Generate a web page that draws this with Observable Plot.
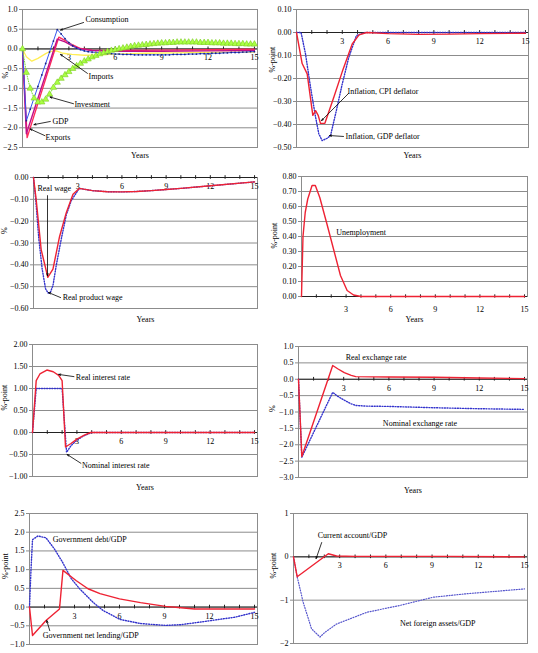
<!DOCTYPE html>
<html><head><meta charset="utf-8">
<script src="https://cdn.jsdelivr.net/npm/d3@7"></script>
<script src="https://cdn.jsdelivr.net/npm/@observablehq/plot@0.6"></script>
<style>
html,body{margin:0;padding:0;background:#fff;overflow:hidden;}
#root{position:relative;width:538px;height:653px;}
#root svg{position:absolute;overflow:visible;}
</style></head><body><div id="root"></div>
<script>
// ---------- data ----------
const xTickLabels = [3, 6, 9, 12, 15];
const yearTicks = [1,2,3,4,5,6,7,8,9,10,11,12,13,14,15];

// Panel 1 (quarterly series with markers)
const consumption = [0,
  -1.82,-1.53,-1.24,-0.95, -0.66,-0.37,-0.08,0.20, 0.49,0.38,0.26,0.16, 0.08,0.02,-0.02,-0.05,
  -0.07,-0.08,-0.09,-0.10, -0.11,-0.12,-0.12,-0.13, -0.13,-0.14,-0.14,-0.14, -0.15,-0.15,-0.15,-0.15,
  -0.15,-0.15,-0.15,-0.15, -0.15,-0.15,-0.14,-0.14, -0.14,-0.14,-0.13,-0.13, -0.13,-0.12,-0.12,-0.12,
  -0.11,-0.11,-0.11,-0.10, -0.10,-0.09,-0.09,-0.09, -0.08,-0.08,-0.07,-0.07];
const investment = [0,
  -0.60,-1.00,-1.25,-1.35, -1.35,-1.28,-1.15,-0.98, -0.85,-0.75,-0.66,-0.58, -0.50,-0.43,-0.37,-0.31,
  -0.26,-0.21,-0.17,-0.13, -0.10,-0.07,-0.04,-0.02, 0.00,0.02,0.04,0.06, 0.08,0.09,0.10,0.11,
  0.12,0.13,0.14,0.15, 0.15,0.16,0.16,0.17, 0.17,0.17,0.17,0.17, 0.17,0.16,0.16,0.16,
  0.15,0.15,0.15,0.14, 0.14,0.14,0.13,0.13, 0.13,0.12,0.12,0.12];
const gdp = [[0,0],[0.25,-2.15],[2.25,0.25],[2.75,0.18],[3.25,0.07],[3.75,0.0],[4.5,-0.04],[6,-0.06],[9,-0.06],[12,-0.05],[15,-0.04]];
const exportsS = [[0,0],[0.3,-2.25],[2.35,0.3],[2.75,0.22],[3.25,0.1],[3.75,0.01],[4.5,-0.03],[6,-0.04],[9,-0.03],[12,-0.02],[15,-0.01]];
const imports = [[0,0],[0.25,-0.2],[0.6,-0.31],[1.0,-0.24],[1.5,-0.12],[1.8,-0.06],[2.2,-0.05],[2.6,-0.11],[3.2,-0.14],[4,-0.16],[5,-0.15],[6,-0.13],[8,-0.11],[10,-0.1],[12,-0.09],[15,-0.08]];

// Panel 2
const cpiInfl = [[0,0],[0.37,-0.135],[0.7,-0.18],[1.07,-0.36],[1.25,-0.34],[1.42,-0.36],[1.57,-0.395],[1.86,-0.395],[2.45,-0.28],[3.0,-0.17],[3.65,-0.05],[4.1,-0.01],[4.6,0],[6,-0.005],[8,-0.008],[10,-0.007],[12,-0.005],[15,-0.003]];
const gdpInfl = [[0,0],[0.3,0],[0.59,-0.093],[0.92,-0.238],[1.25,-0.368],[1.46,-0.44],[1.68,-0.47],[2.0,-0.46],[2.23,-0.448],[2.56,-0.354],[3.0,-0.223],[3.43,-0.107],[3.93,-0.013],[4.5,0],[15,0]];

// Panel 3
const realWage = [[0,0],[0.18,-0.1],[0.52,-0.33],[0.97,-0.457],[1.32,-0.42],[1.77,-0.27],[2.23,-0.16],[2.68,-0.077],[3.1,-0.05],[4,-0.06],[5,-0.065],[6,-0.066],[7,-0.064],[8,-0.06],[9,-0.055],[10,-0.05],[12,-0.038],[15,-0.02]];
const realProductWage = [[0,0],[0.15,-0.1],[0.36,-0.28],[0.59,-0.42],[0.82,-0.51],[1.0,-0.53],[1.15,-0.525],[1.32,-0.495],[1.55,-0.4],[1.89,-0.28],[2.23,-0.17],[2.57,-0.105],[2.91,-0.07],[3.1,-0.05],[4,-0.06],[5,-0.065],[6,-0.066],[7,-0.064],[8,-0.06],[9,-0.055],[10,-0.05],[12,-0.038],[15,-0.02]];

// Panel 4
const unemployment = [[0,0],[0.1,0.4],[0.25,0.56],[0.42,0.65],[0.71,0.74],[0.93,0.74],[1.23,0.66],[1.72,0.48],[2.17,0.31],[2.62,0.14],[3.07,0.04],[3.5,0.01],[4,0],[15,0]];

// Panel 5
const realRate = [[0,0],[0.25,1.18],[0.5,1.33],[0.97,1.42],[1.4,1.38],[1.77,1.3],[2.0,1.18],[2.23,-0.33],[2.6,-0.25],[3.0,-0.15],[3.5,-0.06],[3.93,0],[15,0]];
const nominalRate = [[0,0],[0.25,1.0],[2.0,1.0],[2.3,-0.45],[2.6,-0.3],[3.0,-0.17],[3.5,-0.07],[4.0,0],[15,0]];

// Panel 6
const realFx = [[0,0],[0.22,-2.36],[2.27,0.42],[2.6,0.32],[3.04,0.2],[3.5,0.12],[3.8,0.08],[6,0.07],[9,0.06],[12,0.04],[15,0.02]];
const nominalFx = [[0,0],[0.22,-2.38],[2.27,-0.4],[2.6,-0.52],[3.04,-0.64],[3.5,-0.75],[3.8,-0.8],[4.5,-0.82],[6,-0.83],[9,-0.87],[12,-0.9],[15,-0.92]];

// Panel 7
const netLending = [[0,0],[0.2,-0.76],[1.1,-0.36],[2.0,-0.05],[2.23,0.98],[3.1,0.71],[3.9,0.49],[4.7,0.36],[6.0,0.22],[7.4,0.12],[9.07,0.02],[10.1,-0.02],[11,-0.05],[15,-0.05]];
const govDebt = [[0,0],[0.1,1.0],[0.2,1.8],[0.56,1.9],[1.1,1.85],[1.65,1.56],[2.2,1.2],[2.78,0.76],[3.34,0.49],[4.23,0.13],[4.9,-0.09],[6.03,-0.33],[7.4,-0.44],[9.07,-0.49],[10.1,-0.47],[11.4,-0.4],[13.7,-0.27],[15,-0.14]];

// Panel 8
const currentAccount = [[0,0],[0.24,-0.46],[2.26,0.07],[2.8,0.02],[4,0.01],[10,0.01],[15,0]];
const netForeignAssets = [[0,0],[0.24,-0.46],[0.63,-1.05],[1.17,-1.66],[1.72,-1.85],[2.05,-1.74],[2.8,-1.55],[4.76,-1.28],[6.93,-1.12],[9.1,-0.93],[11.3,-0.85],[13,-0.8],[15,-0.74]];

// ---------- drawing ----------
const FONT = "'Liberation Serif','Times New Roman',serif";
const RED = "#ee2233", BLUE = "#3333cc";
const root = document.getElementById("root");

function solid(data, stroke, w = 1.4) {
  return Plot.line(data, {x: d => d[0], y: d => d[1], stroke, strokeWidth: w});
}
function dotted(data, stroke = BLUE, w = 1.4) {
  return Plot.line(data, {x: d => d[0], y: d => d[1], stroke, strokeWidth: w, strokeDasharray: "1 1.6"});
}

function panel(cfg) {
  const [y0, y1] = cfg.yDomain;
  const tk = (y1 - y0) * 0.014;
  const axisAt = cfg.axisAt ?? 0;
  const notes = cfg.notes || [];
  const arrows = cfg.arrows || [];
  const marks = [
    Plot.ruleY(cfg.yTicks, {stroke: "#8c8c8c", strokeWidth: 1}),
    Plot.frame({stroke: "#8c8c8c"}),
    Plot.axisY(cfg.yTicks, {tickFormat: cfg.yFmt, tickSize: 3, tickPadding: 2, label: null, stroke: "#8c8c8c", fontSize: 8}),
    Plot.ruleY([axisAt], {stroke: "#222"}),
    Plot.ruleX(yearTicks, {x: d => d, y1: axisAt - tk, y2: axisAt + tk, stroke: "#222"}),
    Plot.text(xTickLabels, {x: d => d, y: axisAt, dy: cfg.xLabDy ?? 9, text: d => String(d), fontSize: 8}),
    ...(cfg.yearsDy != null ? [Plot.text(["Years"], {frameAnchor: "bottom", dy: cfg.yearsDy, fontSize: 8})] : []),
    Plot.text([cfg.yLabel], {frameAnchor: "left", rotate: -90, dx: cfg.yLabelDx, dy: cfg.yLabelDy || 0, fontSize: 8}),
    ...cfg.series,
    Plot.arrow(arrows, {x1: d => d[0], y1: d => d[1], x2: d => d[2], y2: d => d[3], stroke: "#000", strokeWidth: 0.8, headLength: 4, headAngle: 40}),
    Plot.text(notes, {x: d => d[0], y: d => d[1], text: d => d[2], textAnchor: "start", fontSize: 8, fill: "#000"})
  ];
  const svg = Plot.plot({
    width: 270, height: 165,
    marginLeft: cfg.m[0], marginRight: cfg.m[1], marginTop: cfg.m[2], marginBottom: cfg.m[3],
    x: {domain: [0, 15.2], axis: null},
    y: {domain: cfg.yDomain, axis: null},
    style: {fontFamily: FONT, fontSize: "8px", color: "#000", background: "transparent", overflow: "visible"},
    marks
  });
  svg.style.left = cfg.o[0] + "px";
  svg.style.top = cfg.o[1] + "px";
  root.appendChild(svg);
}

// Panel 1
panel({
  o: [0, 0], m: [22, 13, 9, 18],
  yDomain: [-2.5, 1.0], yTicks: [-2.5,-2,-1.5,-1,-0.5,0,0.5,1], yFmt: d3.format(".1f"),
  yLabel: "%", yLabelDx: -17, yearsDy: 10,
  series: [
    solid(imports, "#ffee55", 1.3),
    solid(exportsS, "#ff2a5a", 1.4),
    solid(gdp, "#c0108a", 1.4),
    Plot.line(consumption, {x: (d, i) => i / 4, y: d => d, stroke: "#3355ee", strokeWidth: 1}),
    Plot.dot(consumption, {x: (d, i) => i / 4, y: d => d, r: 0.9, fill: "#1a237e"}),
    Plot.line(investment, {x: (d, i) => i / 4, y: d => d, stroke: "#77dd33", strokeWidth: 1, strokeDasharray: "1 1.5"}),
    Plot.dot(investment, {x: (d, i) => i / 4, y: d => d, symbol: "triangle", r: 2.3, fill: "#aaff44", stroke: "#7ccc22", strokeWidth: 0.6})
  ],
  notes: [[4.07, 0.75, "Consumption"], [4.27, -0.70, "Imports"], [3.36, -1.41, "Investment"], [1.94, -1.84, "GDP"], [1.49, -2.25, "Exports"]],
  arrows: [[3.95, 0.67, 2.46, 0.48], [4.2, -0.62, 2.46, -0.14], [3.3, -1.39, 1.78, -1.22], [1.8, -1.84, 0.74, -1.92], [1.45, -2.2, 0.49, -2.03]]
});

// Panel 2
panel({
  o: [268, 0], m: [28, 10, 9, 18],
  yDomain: [-0.5, 0.1], yTicks: [-0.5,-0.4,-0.3,-0.2,-0.1,0,0.1], yFmt: d3.format(".2f"),
  yLabel: "%-point", yLabelDx: -24, yLabelDy: -6, yearsDy: 10,
  series: [dotted(gdpInfl), solid(cpiInfl, RED, 1.4)],
  notes: [[3.34, -0.257, "Inflation, CPI deflator"], [3.21, -0.452, "Inflation, GDP deflator"]],
  arrows: [[3.41, -0.265, 1.64, -0.383], [3.08, -0.452, 2.16, -0.448]]
});

// Panel 3
panel({
  o: [0, 165], m: [33, 13, 12, 22],
  yDomain: [-0.6, 0], yTicks: [-0.6,-0.5,-0.4,-0.3,-0.2,-0.1,0], yFmt: d3.format(".2f"),
  yLabel: "%", yLabelDx: -29, yLabelDy: -9, yearsDy: 13,
  series: [dotted(realProductWage), solid(realWage, RED, 1.4)],
  notes: [[0.27, -0.05, "Real wage"], [1.98, -0.55, "Real product wage"]],
  arrows: [[0.95, -0.083, 0.95, -0.45], [1.84, -0.55, 1.02, -0.527]]
});

// Panel 4
panel({
  o: [268, 165], m: [33, 11, 11, 34],
  yDomain: [0, 0.8], yTicks: [0,0.1,0.2,0.3,0.4,0.5,0.6,0.7,0.8], yFmt: d3.format(".2f"),
  yLabel: "%-point", yLabelDx: -27, yLabelDy: 12, yearsDy: 25, xLabDy: 13,
  series: [solid(unemployment, RED, 1.4)],
  notes: [[2.33, 0.43, "Unemployment"]],
  arrows: []
});

// Panel 5
panel({
  o: [0, 330], m: [32, 13, 14, 19],
  yDomain: [-1, 2], yTicks: [-1,-0.5,0,0.5,1,1.5,2], yFmt: d3.format(".2f"),
  yLabel: "%-point", yLabelDx: -28, yearsDy: 13,
  series: [dotted(nominalRate), solid(realRate, RED, 1.4)],
  notes: [[2.93, 1.25, "Real interest rate"], [3.34, -0.75, "Nominal interest rate"]],
  arrows: [[2.8, 1.27, 1.77, 1.32], [3.27, -0.7, 2.34, -0.5]]
});

// Panel 6
panel({
  o: [268, 330], m: [30, 11, 16, 18],
  yDomain: [-3, 1], yTicks: [-3,-2.5,-2,-1.5,-1,-0.5,0,0.5,1], yFmt: d3.format(".1f"),
  yLabel: "%", yLabelDx: -26, yearsDy: 15,
  series: [dotted(nominalFx), solid(realFx, RED, 1.4)],
  notes: [[3.13, 0.66, "Real exchange rate"], [5.6, -1.35, "Nominal exchange rate"]],
  arrows: []
});

// Panel 7
panel({
  o: [0, 495], m: [29, 13, 18, 16],
  yDomain: [-1, 2.5], yTicks: [-1,-0.5,0,0.5,1,1.5,2,2.5], yFmt: d3.format(".1f"),
  yLabel: "%-point", yLabelDx: -24,
  series: [dotted(govDebt), solid(netLending, RED, 1.4)],
  notes: [[1.55, 1.8, "Government debt/GDP"], [0.88, -0.76, "Government net lending/GDP"]],
  arrows: [[1.35, -0.63, 1.15, -0.36]]
});

// Panel 8
panel({
  o: [268, 495], m: [25, 11, 18, 17],
  yDomain: [-2, 1], yTicks: [-2,-1,0,1], yFmt: d3.format("d"),
  yLabel: "%-point", yLabelDx: -20,
  series: [dotted(netForeignAssets, "#5555cc", 1.2), solid(currentAccount, RED, 1.4)],
  notes: [[1.57, 0.49, "Current account/GDP"], [6.91, -1.54, "Net foreign assets/GDP"]],
  arrows: [[1.83, 0.33, 1.47, -0.04]]
});
</script></body></html>
